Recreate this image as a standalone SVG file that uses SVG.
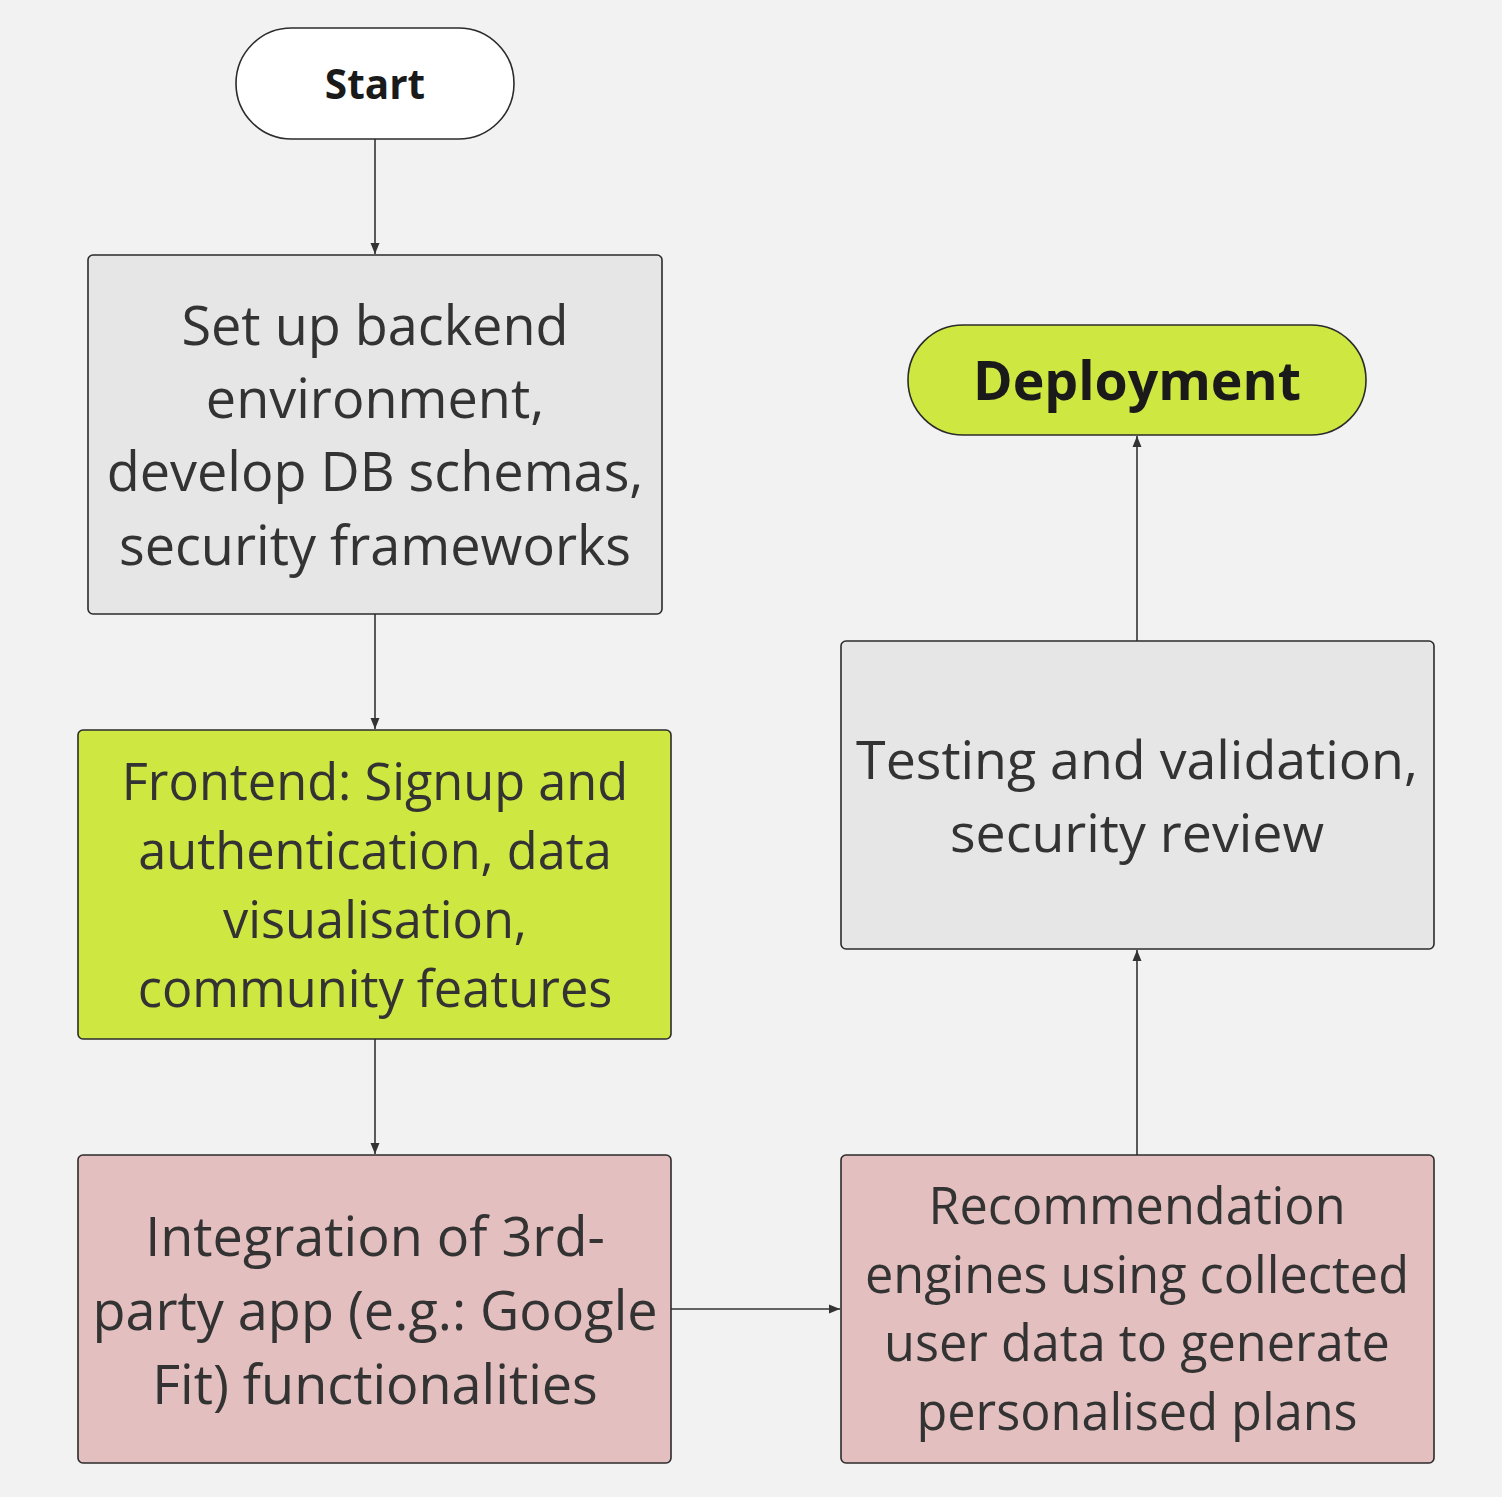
<svg xmlns="http://www.w3.org/2000/svg" width="1502" height="1497" viewBox="0 0 1502 1497">
<defs>
<style>
.node{stroke:#2b2b2b;stroke-width:1.6}
.t{font-family:"Open Sans","Noto Sans",sans-serif;fill:#333333;text-anchor:middle}
.b{font-family:"Open Sans","Noto Sans",sans-serif;fill:#1a1a1a;font-weight:bold;text-anchor:middle}
.c{stroke:#333333;stroke-width:1.6;fill:none;marker-end:url(#ah)}
</style>
<marker id="ah" markerWidth="12" markerHeight="12" refX="11" refY="6" orient="auto" markerUnits="userSpaceOnUse">
<path d="M0,1.5 L11,6 L0,10.5 Z" fill="#333333"/>
</marker>
</defs>
<rect width="1502" height="1497" fill="#f2f2f2"/>
<g id="connectors">
<line class="c" x1="375" y1="139" x2="375" y2="254"/>
<line class="c" x1="375" y1="614" x2="375" y2="729"/>
<line class="c" x1="375" y1="1039" x2="375" y2="1154"/>
<line class="c" x1="671" y1="1309" x2="840" y2="1309"/>
<line class="c" x1="1137" y1="1155" x2="1137" y2="950"/>
<line class="c" x1="1137" y1="641" x2="1137" y2="436"/>
</g>
<g id="start">
<rect class="node" x="236" y="28" width="278" height="111" rx="55.5" fill="#ffffff"/>
<text class="b" x="375" y="99" font-size="40.5">Start</text>
</g>
<g id="backend">
<rect class="node" x="88" y="255" width="574" height="359" rx="5" fill="#e6e6e6"/>
<text class="t" font-size="54"><tspan x="375" y="345">Set up backend</tspan><tspan x="375" y="418">environment,</tspan><tspan x="375" y="491">develop DB schemas,</tspan><tspan x="375" y="565">security frameworks</tspan></text>
</g>
<g id="frontend">
<rect class="node" x="78" y="730" width="593" height="309" rx="5" fill="#cfe741"/>
<text class="t" font-size="50.5"><tspan x="375" y="800">Frontend: Signup and</tspan><tspan x="375" y="869">authentication, data</tspan><tspan x="375" y="938">visualisation,</tspan><tspan x="375" y="1007">community features</tspan></text>
</g>
<g id="integration">
<rect class="node" x="78" y="1155" width="593" height="308" rx="5" fill="#e4bfbf"/>
<text class="t" font-size="54"><tspan x="375" y="1256">Integration of 3rd-</tspan><tspan x="375" y="1330">party app (e.g.: Google</tspan><tspan x="375" y="1404">Fit) functionalities</tspan></text>
</g>
<g id="recommendation">
<rect class="node" x="841" y="1155" width="593" height="308" rx="5" fill="#e4bfbf"/>
<text class="t" font-size="50.4"><tspan x="1137" y="1224">Recommendation</tspan><tspan x="1137" y="1293">engines using collected</tspan><tspan x="1137" y="1361">user data to generate</tspan><tspan x="1137" y="1430">personalised plans</tspan></text>
</g>
<g id="testing">
<rect class="node" x="841" y="641" width="593" height="308" rx="5" fill="#e6e6e6"/>
<text class="t" font-size="53.7"><tspan x="1137" y="779">Testing and validation,</tspan><tspan x="1137" y="852">security review</tspan></text>
</g>
<g id="deployment">
<rect class="node" x="908" y="325" width="458" height="110" rx="55" fill="#cfe741"/>
<text class="b" x="1137" y="400" font-size="53.6">Deployment</text>
</g>
</svg>
